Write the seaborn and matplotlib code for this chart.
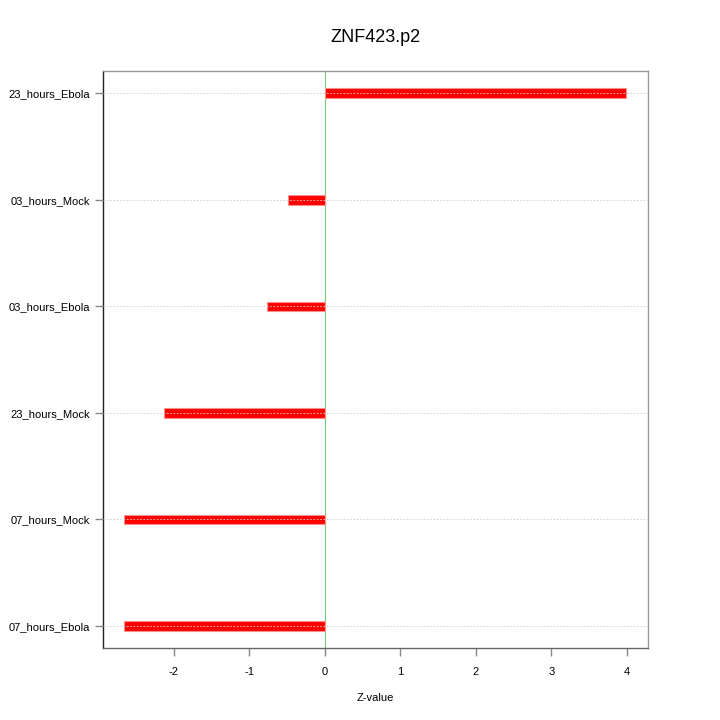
import pandas as pd
import matplotlib
matplotlib.use('Agg')
import matplotlib.pyplot as plt
import seaborn as sns

# 데이터 (위에서 아래 순서)
conditions = ['23_hours_Ebola', '03_hours_Mock', '03_hours_Ebola',
              '23_hours_Mock', '07_hours_Mock', '07_hours_Ebola']
z_values = [3.99, -0.49, -0.77, -2.13, -2.66, -2.66]
x_ticks = [-2, -1, 0, 1, 2, 3, 4]

df = pd.DataFrame({'condition': conditions, 'z': z_values})

sns.set_style('white', {'xtick.bottom': True, 'ytick.left': True,
                        'xtick.color': '#888888', 'ytick.color': '#888888'})
plt.rcParams['font.family'] = ['Liberation Sans', 'DejaVu Sans']
plt.rcParams['text.color'] = 'black'
plt.rcParams['xtick.major.size'] = 6
plt.rcParams['ytick.major.size'] = 6
plt.rcParams['xtick.major.width'] = 1
plt.rcParams['ytick.major.width'] = 1

fig = plt.figure(figsize=(7.2, 7.2), dpi=100)
ax = fig.add_axes([0.143, 0.1, 0.757, 0.801])

# 그리드 (점선)
for i in range(len(conditions)):
    ax.axhline(i, color='#cccccc', linestyle=(0, (2, 2)), linewidth=0.6, zorder=3)

sns.barplot(data=df, x='z', y='condition', order=conditions, orient='h',
            color='#ff0000', edgecolor='#ff9090', linewidth=0.8,
            width=0.09, saturation=1, ax=ax, zorder=2)

ax.axvline(0, color='#77cc77', linewidth=0.8, zorder=1)

ax.set_xlim(-2.94, 4.28)
ax.set_ylim(len(conditions) - 1 + 0.206, -0.206)
ax.set_xticks(x_ticks)
ax.set_xticklabels([str(t) for t in x_ticks])
ax.tick_params(axis='both', labelsize=8, direction='out', length=6, width=1,
               color='#888888', labelcolor='black', bottom=True, left=True, pad=3)
ax.tick_params(axis='x', pad=8)
ax.set_xlabel('Z-value', fontsize=8, labelpad=11, color='black')
ax.set_ylabel('')
ax.set_title('ZNF423.p2', fontsize=13, pad=21, color='black')

for side in ['top', 'right']:
    ax.spines[side].set_color('#999999')
ax.spines['left'].set_color('#222222')
ax.spines['bottom'].set_color('#666666')
for s in ax.spines.values():
    s.set_linewidth(1.0)

fig.savefig('out.png', dpi=100)
